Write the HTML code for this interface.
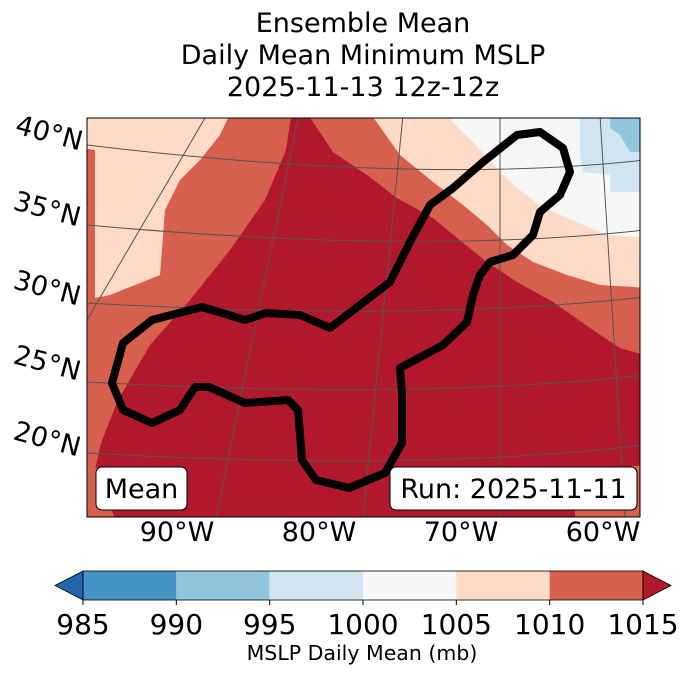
<!DOCTYPE html>
<html><head><meta charset="utf-8"><style>
body{margin:0;background:#fff;width:688px;height:674px;overflow:hidden;font-family:"DejaVu Sans","Liberation Sans",sans-serif}
svg text{font-family:"DejaVu Sans","Liberation Sans",sans-serif}
</style></head><body>
<svg id="s" width="688" height="674" xmlns="http://www.w3.org/2000/svg">
<g font-size="27" text-anchor="middle" fill="#000">
<text x="363" y="32">Ensemble Mean</text>
<text x="363" y="64">Daily Mean Minimum MSLP</text>
<text x="363" y="96">2025-11-13 12z-12z</text>
</g>
<defs><clipPath id="mc"><rect x="87" y="118" width="553" height="399"/></clipPath></defs>
<g id="map" clip-path="url(#mc)"></g>
<rect x="87" y="118" width="553" height="399" fill="none" stroke="#000" stroke-width="1"/>
<g><rect x="96" y="467" width="91" height="43" rx="6" fill="#fff" stroke="#000"/><text x="141.5" y="498" font-size="27" text-anchor="middle">Mean</text></g>
<g><rect x="390" y="467" width="247" height="43" rx="6" fill="#fff" stroke="#000"/><text x="513.5" y="498" font-size="27" text-anchor="middle">Run: 2025-11-11</text></g>
<g font-size="27" fill="#000">
<text transform="translate(14,133) rotate(15)">40°N</text>
<text transform="translate(12,209) rotate(15)">35°N</text>
<text transform="translate(12,288) rotate(15)">30°N</text>
<text transform="translate(12,363) rotate(15)">25°N</text>
<text transform="translate(12,439) rotate(15)">20°N</text>
</g>
<g font-size="27" text-anchor="middle" fill="#000">
<text x="177" y="541">90°W</text><text x="319" y="541">80°W</text><text x="461" y="541">70°W</text><text x="603" y="541">60°W</text>
</g>
<g id="cb"></g>
<text x="362" y="660" font-size="20.5" text-anchor="middle">MSLP Daily Mean (mb)</text>
</svg>
<script>
const levels=[985,990,995,1000,1005,1010,1015];
const colors=['#4393c3','#92c5de','#d1e5f0','#f7f7f7','#fddbc7','#d6604d'];
const NS='http://www.w3.org/2000/svg';
const map=document.getElementById('map');
const cb=document.getElementById('cb');
function mk(tag,attrs,parent){const e=document.createElementNS(NS,tag);for(const k in attrs)e.setAttribute(k,attrs[k]);parent.appendChild(e);return e;}
function pts(p){return p.map(q=>q[0]+','+q[1]).join(' ');}
let r=mk('rect',{x:87,y:118,width:553,height:399,fill:'#b2182b'},map);


const regions=[
['region-1005-1010-west','#d6604d',[[80,110],[292,110],[286,150],[265,200],[230,250],[190,300],[150,345],[118,400],[101,443],[95,470],[80,470]]],
['region-1005-1010-west-bottom','#d6604d',[[80,458],[100,470],[115,520],[80,520]]],
['region-1005-1010-east','#d6604d',[[305,110],[650,110],[650,357],[645,355],[620,348],[590,328],[553,302],[517,282],[487,262],[457,238],[433,218],[397,198],[367,175],[333,152]]],
['region-1005-1010-se','#d6604d',[[575,470],[650,465],[650,520],[575,520]]],
['region-1000-1005-west','#fddbc7',[[80,110],[232,110],[220,135],[200,160],[180,180],[165,210],[160,275],[110,295],[95,298],[95,150],[80,148]]],
['region-1000-1005-east','#fddbc7',[[368,110],[650,110],[650,288],[600,285],[567,275],[533,262],[507,245],[487,225],[463,205],[433,182],[400,155]]],
['region-995-1000','#f7f7f7',[[440,110],[650,110],[650,238],[607,235],[567,218],[540,205],[517,188],[500,172],[473,142]]],
['region-990-995','#d1e5f0',[[580,110],[650,110],[650,192],[610,192],[610,175],[583,172],[580,155]]],
['region-985-990','#92c5de',[[610,110],[650,110],[650,152],[630,152],[620,135],[610,128]]]
];
regions.forEach(g=>{const e=mk('polygon',{points:pts(g[2]),fill:g[1]},map);

});
const lats=[[[87,145],[420,185],[645,160]],[[87,225],[420,255],[645,230]],[[87,303],[420,322],[645,297]],[[87,382],[420,400],[645,375]],[[87,453],[420,472],[645,445]]];
lats.forEach(l=>{const e=mk('path',{d:`M${l[0]} Q${l[1]} ${l[2]}`,fill:'none',stroke:'#555',"stroke-width":1},map);

});
const lons=[[[205,118],[87,320]],[[298,118],[216,517]],[[403,115],[363,517]],[[500,115],[500,517]],[[600,115],[625,517]]];
lons.forEach(l=>{const e=mk('path',{d:`M${l[0]} L${l[1]}`,stroke:'#555',"stroke-width":1},map);

});
const cont=[[112,383],[123,343],[152,320],[202,307],[245,320],[266,313],[300,315],[330,328],[390,282],[410,242],[430,205],[453,188],[483,162],[517,135],[540,132],[563,148],[570,172],[560,195],[540,212],[533,235],[513,255],[490,262],[480,275],[473,295],[467,322],[443,345],[400,368],[402,393],[402,443],[385,473],[349,488],[316,480],[302,460],[298,410],[288,400],[245,403],[209,387],[195,387],[180,410],[152,423],[123,410]];
let c=mk('polygon',{points:pts(cont),fill:'none',stroke:'#000',"stroke-width":8,"stroke-linejoin":"round"},map);


const x0=83,x1=643,y0=571,h=29,w=(x1-x0)/colors.length;
colors.forEach((col,i)=>{const e=mk('rect',{x:x0+i*w,y:y0,width:w,height:h,fill:col},cb);

});
let t1=mk('polygon',{points:`${x0},${y0} ${x0},${y0+h} 55,${y0+h/2}`,fill:'#2166ac',stroke:'#000',"stroke-width":0.8},cb);


let t2=mk('polygon',{points:`${x1},${y0} ${x1},${y0+h} 671,${y0+h/2}`,fill:'#b2182b',stroke:'#000',"stroke-width":0.8},cb);


let fr=mk('rect',{x:x0,y:y0,width:x1-x0,height:h,fill:'none',stroke:'#000',"stroke-width":0.8},cb);


levels.forEach((v,i)=>{const x=x0+i*w;
mk('line',{x1:x,x2:x,y1:y0+h,y2:y0+h+5,stroke:'#000'},cb);
const t=mk('text',{x:x,y:634,"font-size":28,"text-anchor":"middle"},cb);t.textContent=v;

});
</script>
</body></html>
